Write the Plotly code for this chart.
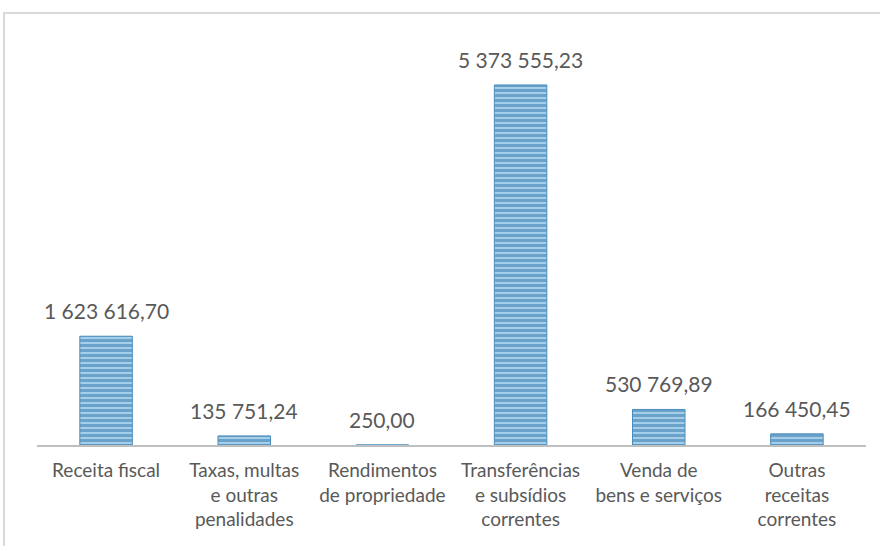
import plotly.graph_objects as go

categories = ["Receita fiscal", "Taxas, multas e outras penalidades", "Rendimentos de propriedade",
              "Transferências e subsídios correntes", "Venda de bens e serviços", "Outras receitas correntes"]
tick_labels = ["Receita fiscal", "Taxas, multas<br>e outras<br>penalidades", "Rendimentos<br>de propriedade",
               "Transferências<br>e subsídios<br>correntes", "Venda de<br>bens e serviços", "Outras<br>receitas<br>correntes"]
values = [1623616.70, 135751.24, 250.00, 5373555.23, 530769.89, 166450.45]


def fmt(v):
    s = f"{v:,.2f}"
    return s.replace(",", " ").replace(".", ",")


labels = [fmt(v) for v in values]

W, H = 880, 546
L, R, T, B = 37, 14, 43, 101
pw, ph = W - L - R, H - T - B

fig = go.Figure()
fig.add_trace(go.Bar(
    x=categories, y=values,
    marker=dict(
        color="#9ccae8",
        line=dict(color="#4a8cbd", width=1),
        pattern=dict(shape="-", fgcolor="#3276aa", bgcolor="#a4cee9", size=5, solidity=0.6),
    ),
    width=0.38,
    hoverinfo="skip",
))

for c, v, t in zip(categories, values, labels):
    fig.add_annotation(x=c, y=v, text=t, showarrow=False, yanchor="bottom", yshift=11,
                       font=dict(family="Lato, Noto Sans, sans-serif", size=21, color="#595959"))

# outer chart frame
fig.add_shape(type="rect", xref="paper", yref="paper",
              x0=(4 - L) / pw, x1=(W + 6 - L) / pw,
              y0=(T + ph - (H + 6)) / ph, y1=(T + ph - 13) / ph,
              line=dict(color="#d9d9d9", width=2), fillcolor="rgba(0,0,0,0)", layer="below")

fig.update_layout(
    width=W, height=H,
    margin=dict(l=L, r=R, t=T, b=B),
    paper_bgcolor="white", plot_bgcolor="white",
    showlegend=False,
    bargap=0.62,
    font=dict(family="Lato, Noto Sans, sans-serif", color="#595959"),
)
fig.update_xaxes(
    tickmode="array", tickvals=categories, ticktext=tick_labels,
    tickfont=dict(size=19, color="#595959"),
    ticklabelstandoff=7,
    showline=True, linecolor="#bfbfbf", linewidth=2,
    ticks="", showgrid=False,
)
fig.update_yaxes(range=[0, 6000000], visible=False, showgrid=False)

fig.write_html("out.html", config={"displayModeBar": False},
               post_script="document.body.style.margin='0';")
